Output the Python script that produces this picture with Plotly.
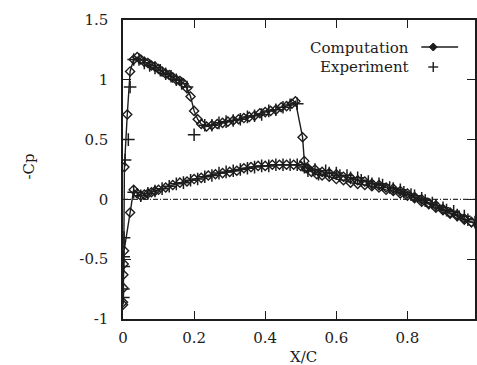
import plotly.graph_objects as go

# ---- data ----
upper_x = [0.0, 0.001, 0.002, 0.004, 0.012, 0.02, 0.03, 0.04, 0.05, 0.06, 0.07, 0.08, 0.09, 0.10,
           0.11, 0.12, 0.13, 0.14, 0.15, 0.16, 0.17, 0.18, 0.19, 0.20, 0.21, 0.22, 0.235, 0.25,
           0.265, 0.28, 0.295, 0.31, 0.325, 0.34, 0.355, 0.37, 0.385, 0.40, 0.415, 0.43, 0.445,
           0.46, 0.475, 0.485, 0.505, 0.51, 0.515, 0.53, 0.545, 0.56, 0.58, 0.60, 0.62, 0.64,
           0.66, 0.68, 0.70, 0.72, 0.74, 0.76, 0.78, 0.80, 0.82, 0.84, 0.86, 0.88, 0.90, 0.92,
           0.94, 0.96, 0.98, 1.0]
upper_cp = [-0.88, -0.74, -0.54, 0.27, 0.71, 1.07, 1.17, 1.19, 1.17, 1.15, 1.14, 1.12, 1.11, 1.09,
            1.07, 1.05, 1.04, 1.02, 1.00, 0.99, 0.97, 0.93, 0.86, 0.74, 0.67, 0.63, 0.61, 0.62,
            0.63, 0.64, 0.65, 0.66, 0.67, 0.68, 0.69, 0.70, 0.72, 0.73, 0.74, 0.75, 0.77,
            0.78, 0.80, 0.82, 0.52, 0.32, 0.26, 0.23, 0.21, 0.20, 0.19, 0.17, 0.16, 0.14,
            0.13, 0.12, 0.11, 0.10, 0.08, 0.07, 0.05, 0.03, 0.01, -0.02, -0.04, -0.07, -0.09, -0.12,
            -0.14, -0.17, -0.19, -0.22]

lower_x = [0.0, 0.001, 0.003, 0.02, 0.03, 0.04, 0.05, 0.06, 0.07, 0.08, 0.09, 0.10, 0.12, 0.14,
           0.16, 0.18, 0.20, 0.22, 0.24, 0.26, 0.28, 0.30, 0.32, 0.34, 0.36, 0.38, 0.40, 0.42,
           0.44, 0.46, 0.48, 0.50, 0.52, 0.54, 0.56, 0.58, 0.60, 0.62, 0.64, 0.66, 0.68, 0.70,
           0.72, 0.74, 0.76, 0.78, 0.80, 0.82, 0.84, 0.86, 0.88, 0.90, 0.92, 0.94, 0.96, 0.98, 1.0]
lower_cp = [-0.86, -0.63, -0.43, -0.11, 0.08, 0.05, 0.03, 0.04, 0.05, 0.06, 0.07, 0.08, 0.10, 0.12,
            0.14, 0.15, 0.17, 0.18, 0.20, 0.21, 0.22, 0.23, 0.24, 0.26, 0.27, 0.28, 0.28, 0.29,
            0.29, 0.29, 0.29, 0.28, 0.26, 0.25, 0.23, 0.22, 0.21, 0.19, 0.18, 0.16, 0.15, 0.13,
            0.12, 0.10, 0.09, 0.07, 0.05, 0.02, 0.0, -0.03, -0.05, -0.08, -0.11, -0.13, -0.16, -0.19, -0.21]

exp_upper_x = [0.001, 0.002, 0.006, 0.015, 0.02, 0.03, 0.045, 0.06, 0.075, 0.09, 0.105, 0.12, 0.135,
               0.15, 0.165, 0.18, 0.20, 0.23, 0.25, 0.27, 0.29, 0.31, 0.33, 0.35, 0.37, 0.39, 0.41,
               0.43, 0.45, 0.47, 0.49, 0.52, 0.55, 0.58, 0.61, 0.64, 0.67, 0.70, 0.73, 0.76, 0.79,
               0.82, 0.85, 0.88, 0.91, 0.94, 0.97]
exp_upper_cp = [-0.82, -0.48, 0.33, 0.50, 0.94, 1.17, 1.17, 1.14, 1.12, 1.10, 1.08, 1.05, 1.03,
                1.00, 0.97, 0.94, 0.54, 0.62, 0.62, 0.64, 0.65, 0.66, 0.67, 0.69, 0.70, 0.71, 0.74,
                0.75, 0.77, 0.79, 0.80, 0.24, 0.21, 0.22, 0.20, 0.18, 0.16, 0.13, 0.12, 0.09, 0.06,
                0.03, -0.01, -0.05, -0.09, -0.13, -0.17]

exp_lower_x = [0.001, 0.002, 0.003, 0.03, 0.05, 0.07, 0.09, 0.11, 0.13, 0.15, 0.17, 0.19, 0.21,
               0.23, 0.25, 0.27, 0.29, 0.31, 0.33, 0.35, 0.37, 0.39, 0.41, 0.43, 0.45, 0.47, 0.49,
               0.51, 0.54, 0.57, 0.60, 0.63, 0.66, 0.69, 0.72, 0.75, 0.78, 0.81, 0.84, 0.87, 0.90,
               0.93, 0.96, 0.99]
exp_lower_cp = [-0.75, -0.56, -0.32, 0.06, 0.03, 0.05, 0.07, 0.09, 0.11, 0.13, 0.14, 0.16, 0.17,
                0.19, 0.20, 0.22, 0.23, 0.24, 0.25, 0.26, 0.27, 0.28, 0.28, 0.29, 0.29, 0.29, 0.29,
                0.27, 0.25, 0.24, 0.22, 0.20, 0.18, 0.15, 0.13, 0.10, 0.08, 0.04, 0.01, -0.03, -0.07,
                -0.10, -0.14, -0.19]

x_ticks = [0, 0.2, 0.4, 0.6, 0.8]
x_tick_labels = ["0", "0.2", "0.4", "0.6", "0.8"]
y_ticks = [-1, -0.5, 0, 0.5, 1, 1.5]
y_tick_labels = ["-1", "-0.5", "0", "0.5", "1", "1.5"]
ref_x = [0, 1]
ref_cp = [0, 0]

INK = "#1c1c1c"
FONT = "DejaVu Serif"

comp_x = upper_x[::-1] + lower_x
comp_cp = upper_cp[::-1] + lower_cp
exp_x = exp_upper_x + exp_lower_x
exp_cp = exp_upper_cp + exp_lower_cp

fig = go.Figure()
fig.add_trace(go.Scatter(x=ref_x, y=ref_cp, mode="lines", showlegend=False,
                         line=dict(color="#333333", width=1.4, dash="5px,2px,1px,2px"),
                         hoverinfo="skip"))
fig.add_trace(go.Scatter(x=comp_x, y=comp_cp, mode="lines+markers", name="Computation",
                         showlegend=False,
                         line=dict(color=INK, width=1.4),
                         marker=dict(symbol="diamond-open", size=7, color=INK,
                                     line=dict(width=1.4, color=INK))))
fig.add_trace(go.Scatter(x=exp_x, y=exp_cp, mode="markers", name="Experiment",
                         showlegend=False,
                         marker=dict(symbol="cross-thin", size=9, color=INK,
                                     line=dict(width=1.5, color=INK))))

L, R, T, B = 123, 477, 20, 319
W, H = 477, 365
pw, ph = R - L, B - T

def px(xp):
    return (xp - L) / pw

def py(yp):
    return (B - yp) / ph

fig.update_layout(
    width=W, height=H,
    margin=dict(l=L, r=W - R, t=T, b=H - B, pad=0),
    paper_bgcolor="white", plot_bgcolor="white",
    font=dict(family=FONT, size=15, color=INK),
    showlegend=False,
)
fig.update_xaxes(range=[0, 0.99], tickvals=x_ticks, ticktext=x_tick_labels,
                 showgrid=False, zeroline=False, showline=True, linecolor=INK, linewidth=1.5,
                 mirror="ticks", ticks="inside", ticklen=8, tickwidth=1.3, tickcolor=INK,
                 ticklabelstandoff=4)
fig.update_yaxes(range=[-1, 1.5], tickvals=y_ticks, ticktext=y_tick_labels,
                 showgrid=False, zeroline=False, showline=True, linecolor=INK, linewidth=1.5,
                 mirror="ticks", ticks="inside", ticklen=8, tickwidth=1.3, tickcolor=INK,
                 ticklabelstandoff=10)

def note(text, x, y, xanchor="center", angle=0):
    fig.add_annotation(text=text, xref="paper", yref="paper", x=px(x), y=py(y),
                       xanchor=xanchor, yanchor="middle", showarrow=False,
                       textangle=angle, font=dict(size=15))

# axis titles
note("-Cp", 28, 167, angle=-90)
note("X/C", 305, 357)

# legend (text left, key right, as in the reference)
note("Computation", 413, 48, xanchor="right")
note("Experiment", 413, 67, xanchor="right")
fig.add_shape(type="line", xref="paper", yref="paper", x0=px(423), x1=px(460),
              y0=py(47), y1=py(47), line=dict(color=INK, width=1.4))
cx, cy, d = 435, 47, 4
fig.add_shape(type="path", xref="paper", yref="paper",
              path=f"M {px(cx-d)},{py(cy)} L {px(cx)},{py(cy-d)} L {px(cx+d)},{py(cy)} L {px(cx)},{py(cy+d)} Z",
              fillcolor=INK, line=dict(color=INK, width=1))
fig.add_shape(type="line", xref="paper", yref="paper", x0=px(430), x1=px(440),
              y0=py(67), y1=py(67), line=dict(color=INK, width=1.4))
fig.add_shape(type="line", xref="paper", yref="paper", x0=px(435), x1=px(435),
              y0=py(62), y1=py(72), line=dict(color=INK, width=1.4))

fig.write_html("out.html", config={"displayModeBar": False},
               post_script="document.body.style.margin='0';document.body.style.overflow='hidden';")
